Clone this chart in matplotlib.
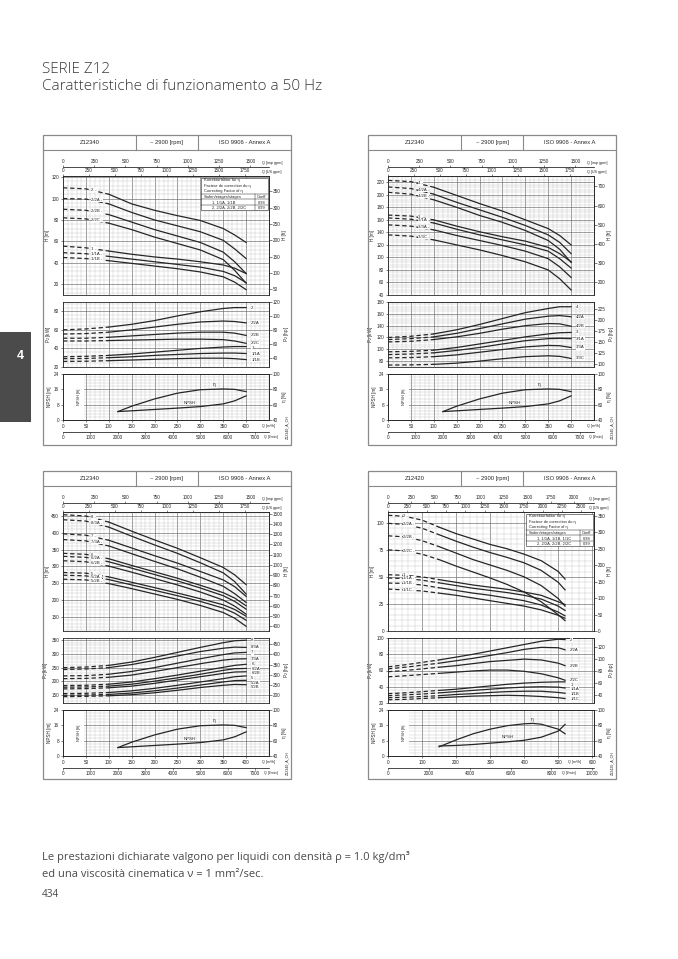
import numpy as np
import matplotlib
matplotlib.use("Agg")
import matplotlib.pyplot as plt
from matplotlib.patches import Rectangle
from matplotlib.lines import Line2D
from matplotlib.ticker import MultipleLocator

plt.rcParams['font.family'] = ['Liberation Sans', 'DejaVu Sans']

W, H = 678, 959
INK = "#262626"

# ---------------- DATA ----------------
# Panel A: Z12340, stages 1 / 2
a_q = [0, 50, 100, 150, 200, 250, 300, 350, 375, 400]
a_names = ["2", "2/2A", "2/2B", "2/2C", "1", "1/1A", "1/1B"]
a_head = [
    [110, 109, 104, 95, 89, 84, 79.5, 72, 66, 59],
    [100, 99.5, 95, 87, 80, 74.5, 69, 61, 53, 44],
    [90, 89, 85, 78, 71, 65, 59, 50, 41, 30],
    [82, 81, 77, 71, 64, 58, 52, 43, 33, 21],
    [55.6, 54, 51, 48, 45.5, 43.5, 41, 38, 35, 30],
    [49.5, 48.5, 46, 43.5, 41, 38.5, 36, 32, 28, 21.5],
    [45, 44, 42, 39.5, 37, 34.5, 31.5, 27, 22, 15],
]
a_power = [
    [60, 61, 63, 66, 70, 75, 79.5, 83, 84, 84],
    [55.5, 56, 57.5, 60, 63, 66, 68.5, 69.5, 69, 67.5],
    [51, 51, 52, 53.5, 55, 56.5, 57.5, 57.5, 56.5, 54],
    [48, 48, 48.5, 49, 49.5, 50, 50, 49.5, 48, 45.5],
    [31, 31.5, 32.5, 34, 36, 38, 40, 41.5, 42, 42],
    [29, 29.2, 30, 31, 32.5, 33.5, 34.5, 35, 35, 34.5],
    [26, 26.2, 26.8, 27.5, 28.3, 29, 29.5, 29.5, 29, 28],
]

# Panel B: Z12340, stages 3 / 4
b_q = [0, 50, 100, 150, 200, 250, 300, 350, 375, 400]
b_names = ["4", "4/2A", "4/2B", "3", "3/1A", "3/3A", "3/3C"]
b_head = [
    [223, 221, 212, 199, 186, 174, 160, 146, 135, 120],
    [212.5, 210, 201, 188, 176, 164, 151, 136, 124, 106],
    [204, 201, 192, 180, 167, 156, 143, 127, 113, 92],
    [167.6, 166, 160, 150, 141, 133, 126, 116, 106, 93],
    [163, 161, 155, 145, 136, 128, 120, 110, 98, 83],
    [152, 150, 144, 135, 127, 119, 110, 98, 85, 68],
    [136, 134, 128, 120, 112, 103, 93, 80, 66, 48],
]
b_power = [
    [120, 122, 126, 133, 142, 152, 162, 169, 172, 172],
    [116.5, 118, 121, 127, 135, 143, 151, 156, 157, 155],
    [112.5, 113.5, 116.5, 121, 127, 134, 140, 143.5, 143, 139],
    [95.7, 96.5, 98.5, 103, 109, 115, 121, 126, 128, 128.5],
    [91, 92, 94, 98, 103, 109, 114.5, 118, 118.5, 118],
    [85.5, 86, 87.5, 90.5, 95, 99.5, 104, 106.5, 106, 103],
    [73.3, 73.6, 74.5, 76.5, 80, 84, 87.5, 89, 88, 84.5],
]

# Panel C: Z12340, stages 5 - 8
c_q = [0, 50, 100, 150, 200, 250, 300, 350, 375, 400]
c_names = ["8", "8/3A", "7", "7/3A", "6", "6/2A", "6/2B", "5", "5/2A", "5/2B"]
c_head = [
    [454, 450, 432, 405, 379, 354, 326, 297, 275, 246],
    [439, 435, 417, 390, 364, 339, 311, 281, 255, 218],
    [397, 393, 378, 355, 332, 310, 285, 260, 240, 211],
    [380, 376, 361, 338, 315, 293, 268, 241, 219, 193],
    [339, 336, 323, 303, 284, 265, 244, 222, 206, 183],
    [330, 327, 314, 295, 276, 257, 236, 213, 196, 173],
    [317, 314, 301, 283, 264, 245, 224, 200, 182, 158],
    [282, 280, 269, 253, 237, 221, 204, 186, 172, 152],
    [274, 272, 261, 245, 229, 213, 196, 176, 161, 140],
    [262, 260, 249, 234, 218, 202, 184, 163, 146, 122],
]
c_power = [
    [250, 252, 258, 270, 287, 305, 323, 340, 347, 349],
    [243, 245, 250, 261, 276, 292, 308, 320, 324, 323],
    [220, 221, 226, 236, 250, 266, 282, 297, 303, 305],
    [210, 211, 215, 223, 236, 250, 264, 277, 281, 282],
    [185, 186, 190, 198, 210, 223, 237, 251, 258, 262],
    [179, 180, 183, 190, 201, 213, 226, 240, 246, 247],
    [173, 174, 177, 183, 193, 205, 217, 229, 234, 235],
    [156, 157, 160, 166, 175, 186, 198, 210, 217, 220],
    [150, 151, 153, 158, 166, 176, 187, 198, 203, 204],
    [145, 146, 148, 152, 159, 168, 178, 186, 189, 188],
]

# efficiency / NPSH, Z12340
e1_q = [120, 150, 200, 250, 300, 350, 375, 400]
e1_eta = [51, 58, 67.5, 75, 79.5, 80.5, 80, 77]
e1_npsh = [4.4, 4.8, 5.5, 6.2, 7, 8.4, 10, 12.6]

# Panel D: Z12420, stages 1 / 2
d_q = [0, 50, 100, 150, 200, 250, 300, 350, 400, 450, 500, 520]
d_names = ["2", "2/2A", "2/2B", "2/2C", "1", "1/1A", "1/1B", "1/1C"]
d_head = [
    [107, 106, 102.5, 96, 90, 85, 80, 76, 71, 65, 55, 48],
    [99.5, 98.5, 95, 89, 83, 77.5, 72.5, 68, 63, 56, 45, 38],
    [88, 87, 83.5, 78, 72, 66, 61, 56, 50, 42, 30, 23],
    [75, 74, 71, 66, 60, 54.5, 49, 43, 36, 27, 15, 9.6],
    [52, 51.5, 50, 47.5, 45, 42.5, 40.5, 38.5, 36, 33, 27, 24.5],
    [49, 48.5, 47, 44.5, 42, 39.5, 37.5, 35.5, 33, 29.5, 23, 19],
    [44.3, 44, 42.5, 40, 37.5, 35, 33, 30.5, 28, 24, 17.5, 14],
    [38.7, 38, 37, 35, 33, 30.5, 28, 25.5, 23, 19.5, 14.5, 11.8],
]
d_power = [
    [64.5, 67, 70, 73, 76.5, 80, 84, 88, 92, 96, 98.5, 98],
    [62, 64, 66.5, 69, 72, 75, 78.5, 82, 86, 88.5, 88, 85.5],
    [58.5, 60, 62, 64, 66, 68.5, 71, 72.5, 74, 73, 69, 66],
    [52.3, 53.5, 55, 56.5, 58, 59.5, 60.5, 60.5, 59, 56, 51, 48],
    [31.5, 32.5, 34, 35.5, 37, 39, 41, 43, 44.5, 45.5, 46, 46],
    [29, 30, 31, 32.5, 34, 35.5, 37, 38.5, 39.5, 40, 39.5, 38.5],
    [26.5, 27, 28, 29, 30.5, 31.5, 33, 34, 34.5, 34.5, 33, 32],
    [24, 24.5, 25.5, 26.5, 27.5, 28.5, 29, 29.5, 29, 28, 26.5, 25.5],
]
e2_q = [150, 200, 250, 300, 350, 400, 425, 450, 500, 520]
e2_eta = [52, 61, 69, 75, 79.5, 82, 82.5, 81.5, 75, 69]
e2_npsh = [5.2, 5.5, 6, 6.7, 7.4, 8.2, 9.0, 9.8, 13, 16.5]

table_a = ["1, 1/1A, 1/1B", "2, 2/2A, 2/2B, 2/2C"]
table_d = ["1, 1/1A, 1/1B, 1/1C", "2, 2/2A, 2/2B, 2/2C"]
table_coeff = ["0,98", "0,99"]

# unit conversions
IMP = 3.6662      # imp gpm per m3/h
USG = 4.4029      # US gpm per m3/h
LMIN = 1000 / 60  # l/min per m3/h
FT = 3.28084
HP = 1.34102

# ---------------- FIGURE ----------------
fig = plt.figure(figsize=(6.78, 9.59), dpi=100)
fig.patch.set_facecolor("white")


def frac(x0, y0, x1, y1):
    return [x0 / W, 1 - y1 / H, (x1 - x0) / W, (y1 - y0) / H]


def fig_rect(x0, y0, x1, y1, **kw):
    fig.add_artist(Rectangle((x0 / W, 1 - y1 / H), (x1 - x0) / W, (y1 - y0) / H,
                             transform=fig.transFigure, **kw))


def fig_line(x0, y0, x1, y1, **kw):
    fig.add_artist(Line2D([x0 / W, x1 / W], [1 - y0 / H, 1 - y1 / H],
                          transform=fig.transFigure, **kw))


def fig_text(x, y, s, **kw):
    fig.text(x / W, 1 - y / H, s, **kw)


TS = 3.3


def conv(f):
    return (lambda x: np.asarray(x) * f, lambda y: np.asarray(y) / f)


def style(ax):
    ax.tick_params(which='both', labelsize=TS, length=1.8, width=0.4, pad=1,
                   colors=INK)
    ax.tick_params(which='minor', length=0)
    for s in ax.spines.values():
        s.set_linewidth(0.6)
        s.set_color(INK)
    ax.set_axisbelow(True)
    ax.grid(which='major', color='#6a6a6a', lw=0.45)
    ax.grid(which='minor', color='#b8b8b8', lw=0.25)


def sec_style(sec):
    sec.tick_params(labelsize=TS, length=1.8, width=0.4, pad=1, colors=INK)
    for s in sec.spines.values():
        s.set_linewidth(0.5)


def plot_curves(ax, q, curves, q_solid):
    q = np.asarray(q, float)
    k = int(np.searchsorted(q, q_solid))
    for c in curves:
        c = np.asarray(c, float)
        ax.plot(q[:k + 1], c[:k + 1], color=INK, lw=0.9, ls=(0, (3.5, 2.2)),
                zorder=3)
        ax.plot(q[k:], c[k:], color=INK, lw=0.9, zorder=3)


def spread(vals, gap):
    vals = np.asarray(vals, float)
    out = vals.copy()
    order = np.argsort(-vals)
    prev = None
    for i in order:
        if prev is not None and out[prev] - out[i] < gap:
            out[i] = out[prev] - gap
        prev = i
    return out


def draw_table(ax, rows):
    x0, x1, y0, y1 = 0.672, 0.995, 0.712, 0.985
    ax.add_patch(Rectangle((x0, y0), x1 - x0, y1 - y0, transform=ax.transAxes,
                           fc='white', ec=INK, lw=0.4, zorder=5))
    n = 6
    rh = (y1 - y0) / n
    head_lines = ["Korrekturfaktor für η", "Facteur de correction du η",
                  "Correcting Factor of η"]
    for i, t in enumerate(head_lines):
        ax.text(x0 + 0.012, y1 - (i + 0.5) * rh, t, transform=ax.transAxes,
                fontsize=2.9, va='center', ha='left', color=INK, zorder=6)
    xc = x0 + 0.8 * (x1 - x0)
    ysep = y1 - 3 * rh
    for j in range(3):
        yy = ysep - j * rh
        ax.add_artist(Line2D([x0, x1], [yy, yy], transform=ax.transAxes,
                             color=INK, lw=0.35, zorder=6))
    ax.add_artist(Line2D([xc, xc], [y0, ysep], transform=ax.transAxes,
                         color=INK, lw=0.35, zorder=6))
    body = [("Stufen/etages/stages", "Coeff")] + list(zip(rows, table_coeff))
    for j, (a, b) in enumerate(body):
        yy = ysep - (j + 0.5) * rh
        ax.text(x0 + (0.012 if j == 0 else 0.05), yy, a, transform=ax.transAxes,
                fontsize=2.9, va='center', ha='left', color=INK, zorder=6)
        ax.text((xc + x1) / 2, yy, b, transform=ax.transAxes, fontsize=2.9,
                va='center', ha='center', color=INK, zorder=6)


def draw_panel(cx, ry, model, q, names, head, power, eq, eta, npsh, cfg):
    # frame + header
    fig_rect(cx, ry, cx + 248, ry + cfg['fh'], fill=False, ec='#8a8a8a', lw=0.9)
    fig_line(cx, ry + 15, cx + 248, ry + 15, color='#8a8a8a', lw=0.8)
    fig_line(cx + 93, ry, cx + 93, ry + 15, color='#8a8a8a', lw=0.8)
    fig_line(cx + 155, ry, cx + 155, ry + 15, color='#8a8a8a', lw=0.8)
    for xx, t in [(cx + 46.5, model), (cx + 124, "~ 2900 [rpm]"),
                  (cx + 201.5, "ISO 9906 - Annex A")]:
        fig_text(xx, ry + 7.8, t, fontsize=4.2, ha='center', va='center',
                 color=INK)
    fig_text(cx + 244.5, ry + 292, cfg['code'], fontsize=2.6, rotation=90,
             ha='center', va='center', color=INK)

    xl, xr = cx + 20, cx + 226
    qmax = cfg['qmax']
    ux = cfg['unitx']

    # ---- head ----
    ax = fig.add_axes(frac(xl, ry + 41, xr, ry + 160))
    ax.set_xlim(0, qmax)
    ax.set_ylim(*cfg['hlim'])
    ax.xaxis.set_major_locator(MultipleLocator(cfg['qmaj']))
    ax.xaxis.set_minor_locator(MultipleLocator(cfg['qmin']))
    ax.yaxis.set_major_locator(MultipleLocator(cfg['hmaj']))
    ax.yaxis.set_minor_locator(MultipleLocator(cfg['hmin']))
    style(ax)
    ax.tick_params(which='both', bottom=False, labelbottom=False)
    ax.set_ylabel("H [m]", fontsize=TS, labelpad=1, color=INK)
    plot_curves(ax, q, head, cfg['qsolid'])
    for nm, c in zip(names, head):
        y = np.interp(cfg['labq'], q, c)
        ax.text(cfg['labq'], y, nm + " -", fontsize=3.1, ha='left', va='center',
                color=INK, zorder=4,
                bbox=dict(boxstyle='square,pad=0.05', fc='white', ec='none'))
    s = ax.secondary_yaxis('right', functions=conv(FT))
    s.set_yticks(cfg['ftticks'])
    sec_style(s)
    s.set_ylabel("H [ft]", fontsize=TS, labelpad=1, color=INK)
    us = ax.secondary_xaxis(1.0, functions=conv(USG))
    us.set_xticks(cfg['usticks'])
    sec_style(us)
    us.tick_params(pad=0.6, length=1.5)
    imp = ax.secondary_xaxis(1.075, functions=conv(IMP))
    imp.set_xticks(cfg['impticks'])
    sec_style(imp)
    imp.tick_params(pad=0.6, length=1.5)
    ax.text(cfg['topux'], 1.015, "Q [US gpm]", transform=ax.transAxes,
            fontsize=2.7, ha='left', va='bottom', color=INK)
    ax.text(cfg['topux'], 1.09, "Q [imp gpm]", transform=ax.transAxes,
            fontsize=2.7, ha='left', va='bottom', color=INK)
    if cfg.get('table'):
        draw_table(ax, cfg['table'])

    # ---- power ----
    ap = fig.add_axes(frac(xl, ry + 167, xr, ry + 232))
    ap.set_xlim(0, qmax)
    ap.set_ylim(*cfg['plim'])
    ap.xaxis.set_major_locator(MultipleLocator(cfg['qmaj']))
    ap.xaxis.set_minor_locator(MultipleLocator(cfg['qmin']))
    ap.yaxis.set_major_locator(MultipleLocator(cfg['pmaj']))
    ap.yaxis.set_minor_locator(MultipleLocator(cfg['pmin']))
    style(ap)
    ap.tick_params(which='both', bottom=False, labelbottom=False)
    ap.set_ylabel("P$_2$ [kW]", fontsize=TS, labelpad=1, color=INK)
    plot_curves(ap, q, power, cfg['qsolid'])
    ends = [c[-1] for c in power]
    gap = (cfg['plim'][1] - cfg['plim'][0]) / 65 * 4.6
    ly = spread(ends, gap)
    for nm, yv in zip(names, ly):
        ap.text(q[-1] + 0.025 * qmax, yv, nm, fontsize=3.1, ha='left',
                va='center', color=INK, zorder=4,
                bbox=dict(boxstyle='square,pad=0.05', fc='white', ec='none'))
    s = ap.secondary_yaxis('right', functions=conv(HP))
    s.set_yticks(cfg['hpticks'])
    sec_style(s)
    s.set_ylabel("P$_2$ [hp]", fontsize=TS, labelpad=1, color=INK)

    # ---- efficiency / NPSH ----
    ae = fig.add_axes(frac(xl, ry + 239, xr, ry + 285))
    ae.set_xlim(0, qmax)
    ae.set_ylim(0, 24)
    ae.set_yticks([0, 8, 16, 24])
    ae.yaxis.set_minor_locator(MultipleLocator(1.6))
    ae.set_xticks(cfg['qticks'])
    ae.xaxis.set_minor_locator(MultipleLocator(cfg['qmin']))
    style(ae)
    ae.tick_params(axis='x', which='major', length=1.5, pad=1.2)
    ae.add_patch(Rectangle((0, 0), 0.1, 1, transform=ae.transAxes, fc='white',
                           ec='none', zorder=1))
    ae.set_ylabel("NPSH [m]", fontsize=TS, labelpad=1, color=INK)
    ae.text(0.08, 0.5, "NPSH [ft]", transform=ae.transAxes, rotation=90,
            fontsize=2.8, ha='center', va='center', color=INK, zorder=4)
    nf = ae.secondary_yaxis(0.018, functions=conv(FT))
    nf.set_alignment('right')
    nf.set_yticks([20, 40, 60])
    sec_style(nf)
    nf.spines['right'].set_visible(False)
    ae.plot(eq, npsh, color=INK, lw=0.9, zorder=3)
    ae.text(cfg['npshlab'][0], cfg['npshlab'][1], "NPSH", fontsize=3.1,
            ha='center', va='center', color=INK, zorder=4)
    a2 = ae.twinx()
    a2.set_ylim(40, 100)
    a2.set_yticks([40, 60, 80, 100])
    a2.tick_params(labelsize=TS, length=1.8, width=0.4, pad=1, colors=INK)
    for sp in a2.spines.values():
        sp.set_linewidth(0.6)
        sp.set_color(INK)
    a2.plot(eq, eta, color=INK, lw=0.9, zorder=3)
    a2.text(cfg['etalab'][0], cfg['etalab'][1], "η", fontsize=3.4,
            ha='center', va='center', color=INK)
    a2.set_ylabel("η [%]", fontsize=TS, labelpad=1, color=INK)
    ae.text(ux, -0.09, "Q [m³/h]", transform=ae.transAxes, fontsize=2.6,
            ha='left', va='top', color=INK)
    lm = ae.secondary_xaxis(-0.26, functions=conv(LMIN))
    lm.set_xticks(cfg['lminticks'])
    sec_style(lm)
    lm.tick_params(pad=0.8, length=1.5)
    ae.text(cfg['unitx2'], -0.33, "Q [l/min]", transform=ae.transAxes,
            fontsize=2.6, ha='left', va='top', color=INK)


cfg_a = dict(fh=310, code="Z12340_A_CH", qmax=450, hlim=(10, 121), hmaj=20, hmin=4,
             ftticks=[50, 100, 150, 200, 250, 300, 350], plim=(20, 90), pmaj=20,
             pmin=4, hpticks=[40, 60, 80, 100, 120], qmaj=50, qmin=10,
             qticks=list(range(0, 401, 50)), lminticks=list(range(0, 7001, 1000)),
             impticks=list(range(0, 1501, 250)), usticks=list(range(0, 1751, 250)),
             qsolid=100, labq=62, table=table_a, npshlab=(276, 9.1),
             etalab=(329, 86.8), unitx=0.965, unitx2=0.975, topux=0.965)
cfg_b = dict(cfg_a, table=None, hlim=(40, 230), ftticks=[200, 300, 400, 500, 600, 700],
             plim=(70, 180), pmaj=20, pmin=4, hpticks=[100, 125, 150, 175, 200, 225],
             labq=65)
cfg_c = dict(cfg_a, fh=308, table=None, hlim=(108, 462), hmaj=50, hmin=10,
             ftticks=list(range(400, 1501, 100)), plim=(122, 357), pmaj=50, pmin=10,
             hpticks=[200, 250, 300, 350, 400, 450])
cfg_d = dict(fh=308, code="Z12420_A_CH", qmax=605, hlim=(0, 110), hmaj=25, hmin=5,
             ftticks=list(range(0, 351, 50)), plim=(20, 100), pmaj=20, pmin=4,
             hpticks=[40, 60, 80, 100, 120], qmaj=100, qmin=20,
             qticks=list(range(0, 601, 100)), lminticks=list(range(0, 10001, 2000)),
             impticks=list(range(0, 2001, 250)), usticks=list(range(0, 2501, 250)),
             qsolid=150, labq=45, table=table_d, npshlab=(351, 10.1),
             etalab=(424, 87.8), unitx=0.872, unitx2=0.846, topux=0.975)

draw_panel(43, 135, "Z12340", a_q, a_names, a_head, a_power, e1_q, e1_eta, e1_npsh, cfg_a)
draw_panel(368, 135, "Z12340", b_q, b_names, b_head, b_power, e1_q, e1_eta, e1_npsh, cfg_b)
draw_panel(43, 471, "Z12340", c_q, c_names, c_head, c_power, e1_q, e1_eta, e1_npsh, cfg_c)
draw_panel(368, 471, "Z12420", d_q, d_names, d_head, d_power, e2_q, e2_eta, e2_npsh, cfg_d)

# ---------------- page text ----------------
TF = ['Open Sans', 'DejaVu Sans']
fig_text(42, 73, "SERIE Z12", fontsize=11, family=TF, weight=300,
         color='#3a3a3a', va='baseline')
fig_text(42, 90, "Caratteristiche di funzionamento a 50 Hz", fontsize=11,
         family=TF, weight=300, color='#3a3a3a', va='baseline')
fig_text(42, 860, "Le prestazioni dichiarate valgono per liquidi con densità ρ = 1.0 kg/dm³",
         fontsize=8, family=TF, color='#4a4a4a', va='baseline')
fig_text(42, 877, "ed una viscosità cinematica ν = 1 mm²/sec.", fontsize=8,
         family=TF, color='#4a4a4a', va='baseline')
fig_text(42, 897, "434", fontsize=7.2, family=TF, color='#4a4a4a', va='baseline')

fig_rect(0, 332, 31, 422, fc='#4b4b4b', ec='none')
fig_text(20, 356, "4", fontsize=9, weight='bold', color='white', ha='center',
         va='center')

fig.savefig("out.png", dpi=100)
